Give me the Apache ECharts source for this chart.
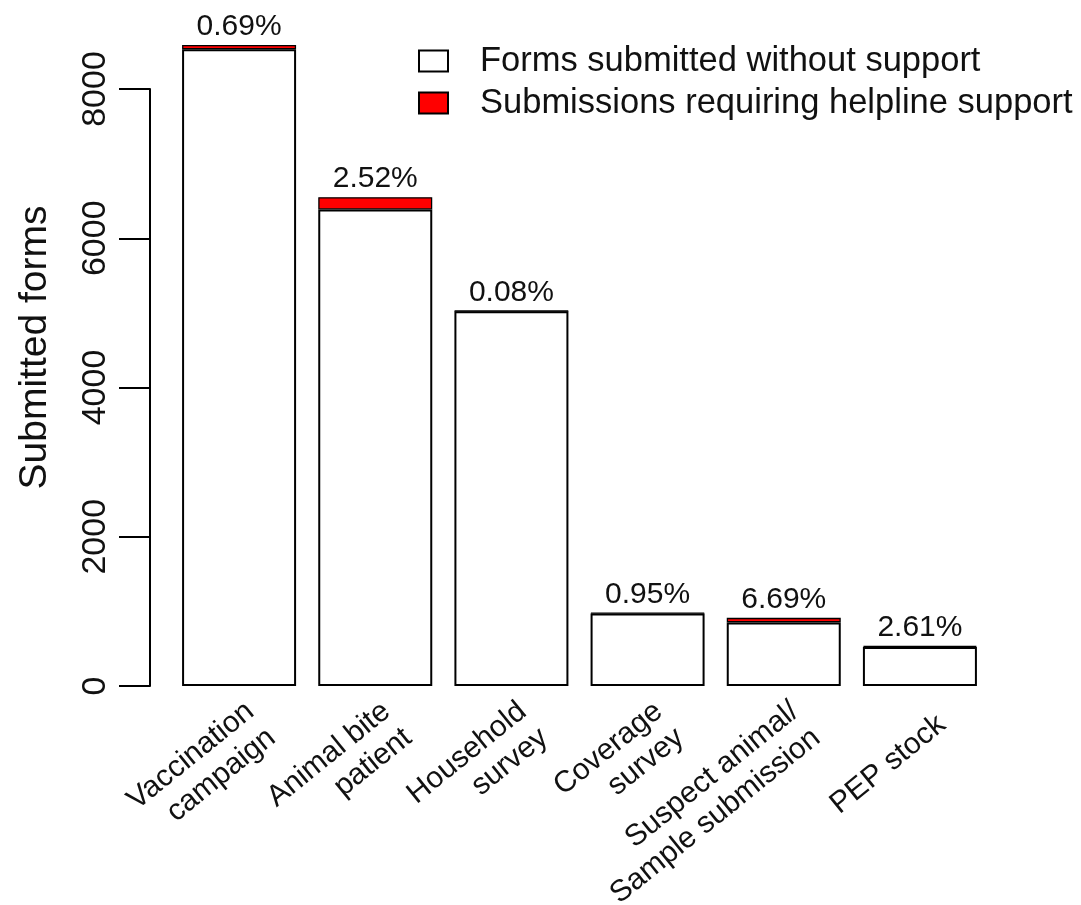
<!DOCTYPE html>
<html>
<head>
<meta charset="utf-8">
<script src="https://cdn.jsdelivr.net/npm/echarts@6/dist/echarts.min.js"></script>
<style>html,body{margin:0;padding:0;background:#fff;}#c{width:1081px;height:905px;}</style>
</head>
<body>
<div id="c"></div>
<script>
const categories = ['Vaccination\ncampaign', 'Animal bite\npatient', 'Household\nsurvey', 'Coverage\nsurvey', 'Suspect animal/\nSample submission', 'PEP stock'];
const withoutSupport = [8531, 6385, 5023, 971, 852, 523];
const helplineSupport = [59, 165, 4, 9, 61, 14];
const pctLabels = ['0.69%', '2.52%', '0.08%', '0.95%', '6.69%', '2.61%'];
const yMin = 0, yMax = 8000, yStep = 2000;
const seriesNames = ['Forms submitted without support', 'Submissions requiring helpline support'];

const FONT = 'Liberation Sans, Arial, Helvetica, sans-serif';
const chart = echarts.init(document.getElementById('c'), null, {renderer: 'canvas'});
const option = {
  backgroundColor: '#ffffff',
  animation: false,
  textStyle: {fontFamily: FONT, color: '#000'},
  legend: {
    orient: 'vertical', left: 418, top: 42, padding: 0,
    itemWidth: 29, itemHeight: 21, itemGap: 4,
    icon: 'rect',
    textStyle: {fontFamily: FONT, fontSize: 34.5, color: '#111', lineHeight: 38, padding: [0, 0, 0, 27]},
    data: seriesNames
  },
  grid: [
    {left: 171, right: 93, top: 89, bottom: 219, outerBoundsMode: 'none'},
    {left: 193, right: 71, top: 89, bottom: 219, outerBoundsMode: 'none'}
  ],
  xAxis: [
    {type: 'category', gridIndex: 0, data: categories,
      axisLine: {show: false}, axisTick: {show: false}, axisLabel: {show: false}},
    {type: 'category', gridIndex: 1, data: categories,
      axisLine: {show: false}, axisTick: {show: false},
      axisLabel: {show: true, interval: 0, rotate: 39, fontFamily: FONT, fontSize: 30, lineHeight: 34, color: '#111', margin: 35}}
  ],
  yAxis: [
    {type: 'value', gridIndex: 0, min: yMin, max: yMax, interval: yStep, offset: 21,
      name: 'Submitted forms', nameLocation: 'middle', nameGap: 95,
      nameTextStyle: {fontFamily: FONT, fontSize: 39, color: '#111', padding: [0, 0, 0, 80]},
      axisLine: {show: true, lineStyle: {color: '#000', width: 2}},
      axisTick: {show: true, length: 31, lineStyle: {color: '#000', width: 2}},
      axisLabel: {rotate: 90, fontFamily: FONT, fontSize: 34, color: '#111', margin: 37,
        formatter: v => String(v)},
      splitLine: {show: false}},
    {type: 'value', gridIndex: 1, min: yMin, max: yMax, show: false}
  ],
  series: [
    {name: seriesNames[0], type: 'bar', stack: 'all', data: withoutSupport, barWidth: 114, clip: false,
      xAxisIndex: 0, yAxisIndex: 0,
      itemStyle: {color: '#ffffff', borderColor: '#000', borderWidth: 2}},
    {name: seriesNames[1], type: 'bar', stack: 'all', data: helplineSupport, barWidth: 114, clip: false,
      xAxisIndex: 0, yAxisIndex: 0,
      itemStyle: {color: '#ff0000', borderColor: '#000', borderWidth: 1.3},
      label: {show: true, position: 'top', distance: 3, fontFamily: FONT, fontSize: 30, color: '#111',
        formatter: p => pctLabels[p.dataIndex]}}
  ]
};
chart.setOption(option);
</script>
</body>
</html>
